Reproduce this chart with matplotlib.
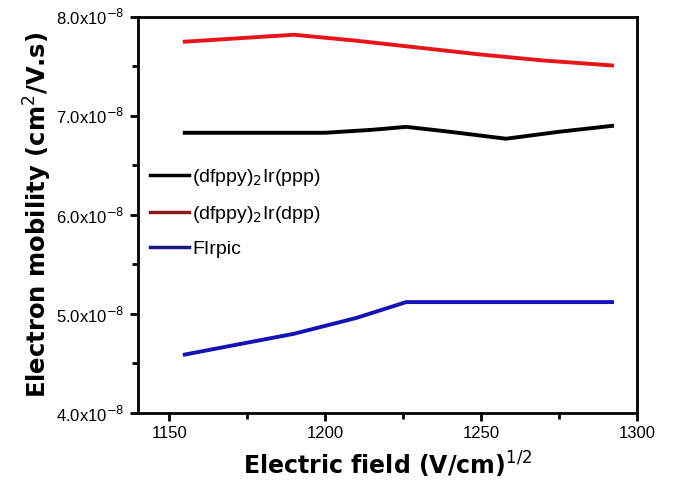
import matplotlib
matplotlib.use("Agg")
import matplotlib.pyplot as plt
from matplotlib.ticker import FixedLocator, FuncFormatter, MultipleLocator

plt.rcParams["font.family"] = ["Liberation Sans", "DejaVu Sans"]

# values (mobility in units of 1e-8 cm^2/V.s)
x_ppp = [1155, 1200, 1215, 1226, 1240, 1258, 1275, 1292]
y_ppp = [6.83, 6.83, 6.86, 6.89, 6.84, 6.77, 6.84, 6.90]

x_dpp = [1155, 1170, 1190, 1210, 1230, 1250, 1270, 1292]
y_dpp = [7.75, 7.78, 7.82, 7.76, 7.69, 7.62, 7.56, 7.51]

x_firpic = [1155, 1175, 1190, 1210, 1226, 1292]
y_firpic = [4.59, 4.71, 4.80, 4.96, 5.12, 5.12]

labels = ["(dfppy)$_2$Ir(ppp)", "(dfppy)$_2$Ir(dpp)", "FIrpic"]

fig = plt.figure(figsize=(6.75, 4.98), dpi=100)
ax = fig.add_axes([0.2044, 0.1707, 0.7393, 0.7953])

ax.plot(x_ppp, y_ppp, color="black", lw=2.8, label=labels[0])
ax.plot(x_dpp, y_dpp, color="#e8141a", lw=2.8, label=labels[1])
ax.plot(x_firpic, y_firpic, color="#1414b4", lw=2.8, label=labels[2])

ax.set_xlim(1140, 1300)
ax.set_ylim(4.0, 8.0)
ax.xaxis.set_major_locator(FixedLocator([1150, 1200, 1250, 1300]))
ax.xaxis.set_minor_locator(FixedLocator([1175, 1225, 1275]))
ax.yaxis.set_major_locator(MultipleLocator(1.0))
ax.yaxis.set_minor_locator(MultipleLocator(0.5))
ax.yaxis.set_major_formatter(FuncFormatter(lambda v, p: f"{v:.1f}x10$^{{-8}}$"))

for s in ax.spines.values():
    s.set_linewidth(2)
ax.tick_params(which="both", direction="out", width=2, labelsize=12, top=False, right=False)
ax.tick_params(which="major", length=6)
ax.tick_params(which="minor", length=4)

ax.set_xlabel("Electric field (V/cm)$^{1/2}$", fontsize=17, fontweight="bold", labelpad=6,
              family="DejaVu Sans")
ax.set_ylabel("Electron mobility (cm$^2$/V.s)", fontsize=17.5, fontweight="bold", labelpad=2,
              family="DejaVu Sans")

leg = ax.legend(loc="upper left", bbox_to_anchor=(0.0, 0.65), frameon=False, fontsize=14,
                handlelength=2.0, handletextpad=0.2, labelspacing=0.8, borderaxespad=0.2)
for h in leg.get_lines():
    h.set_linewidth(2.5)
leg.get_lines()[1].set_color("#8b1a1a")
leg.get_lines()[2].set_color("#1a1a80")

fig.savefig("out.png", dpi=100)
